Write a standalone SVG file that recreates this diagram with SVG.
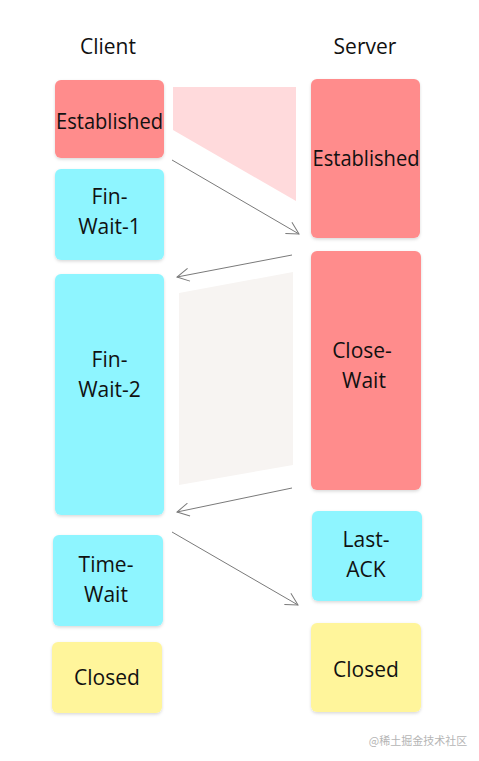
<svg xmlns="http://www.w3.org/2000/svg" width="479" height="761" viewBox="0 0 479 761">
<defs>
<filter id="sh" x="-10%" y="-10%" width="120%" height="120%">
<feDropShadow dx="0" dy="1.5" stdDeviation="1.5" flood-color="#000" flood-opacity="0.15"/>
</filter>
<marker id="ah" viewBox="0 0 14 14" refX="13" refY="7" markerWidth="14" markerHeight="14" markerUnits="userSpaceOnUse" orient="auto">
<path d="M1,0.5 L13,7 L1,13.5" fill="none" stroke="#7a7a7a" stroke-width="1"/>
</marker>
</defs>
<style>
text{font-family:"Open Sans","Noto Sans","DejaVu Sans",sans-serif;font-size:21px;fill:#111;text-anchor:middle;dominant-baseline:central}
.red{fill:#ff8c8c;filter:url(#sh)}
.cyan{fill:#8ef5ff;filter:url(#sh)}
.yel{fill:#fff59b;filter:url(#sh)}
.conn{fill:none;stroke:#7a7a7a;stroke-width:1;marker-end:url(#ah)}
.title{font-size:21px}
.wm{font-family:"Noto Sans CJK SC",sans-serif;font-size:11px;fill:#b5b5b5}
</style>
<rect width="479" height="761" fill="#fff"/>
<text class="title" x="108" y="46">Client</text>
<text class="title" x="365" y="46">Server</text>
<polygon points="173,87 296,87 296,201 173,130" fill="#ffdadc"/>
<polygon points="179,293 293,272 293,465 179,485" fill="#f7f4f2"/>
<g id="c-established"><rect class="red" x="55" y="80" width="109" height="78" rx="6"/><text x="109.5" y="121" font-size="20" textLength="107" lengthAdjust="spacingAndGlyphs">Established</text></g>
<g id="c-finwait1"><rect class="cyan" x="55" y="169" width="109" height="91" rx="6"/><text x="109.5" y="196">Fin-</text><text x="109.5" y="226">Wait-1</text></g>
<g id="c-finwait2"><rect class="cyan" x="55" y="274" width="109" height="241" rx="6"/><text x="109.5" y="359">Fin-</text><text x="109.5" y="389">Wait-2</text></g>
<g id="c-timewait"><rect class="cyan" x="53" y="535" width="110" height="91" rx="6"/><text x="106" y="564">Time-</text><text x="106" y="594">Wait</text></g>
<g id="c-closed"><rect class="yel" x="52" y="642" width="110" height="71" rx="6"/><text x="107" y="677">Closed</text></g>
<g id="s-established"><rect class="red" x="311" y="79" width="109" height="159" rx="6"/><text x="366" y="158" font-size="20" textLength="107" lengthAdjust="spacingAndGlyphs">Established</text></g>
<g id="s-closewait"><rect class="red" x="311" y="251" width="110" height="239" rx="6"/><text x="362" y="350">Close-</text><text x="364" y="380">Wait</text></g>
<g id="s-lastack"><rect class="cyan" x="312" y="511" width="110" height="90" rx="6"/><text x="366" y="539">Last-</text><text x="366" y="569">ACK</text></g>
<g id="s-closed"><rect class="yel" x="311" y="623" width="110" height="89" rx="6"/><text x="366" y="669">Closed</text></g>
<g id="connectors">
<line class="conn" x1="172" y1="160" x2="299" y2="234"/>
<line class="conn" x1="292" y1="255" x2="177" y2="277"/>
<line class="conn" x1="292" y1="488" x2="177" y2="512"/>
<line class="conn" x1="172" y1="532" x2="298" y2="605"/>
</g>
<text class="wm" x="418" y="740">@稀土掘金技术社区</text>
</svg>
